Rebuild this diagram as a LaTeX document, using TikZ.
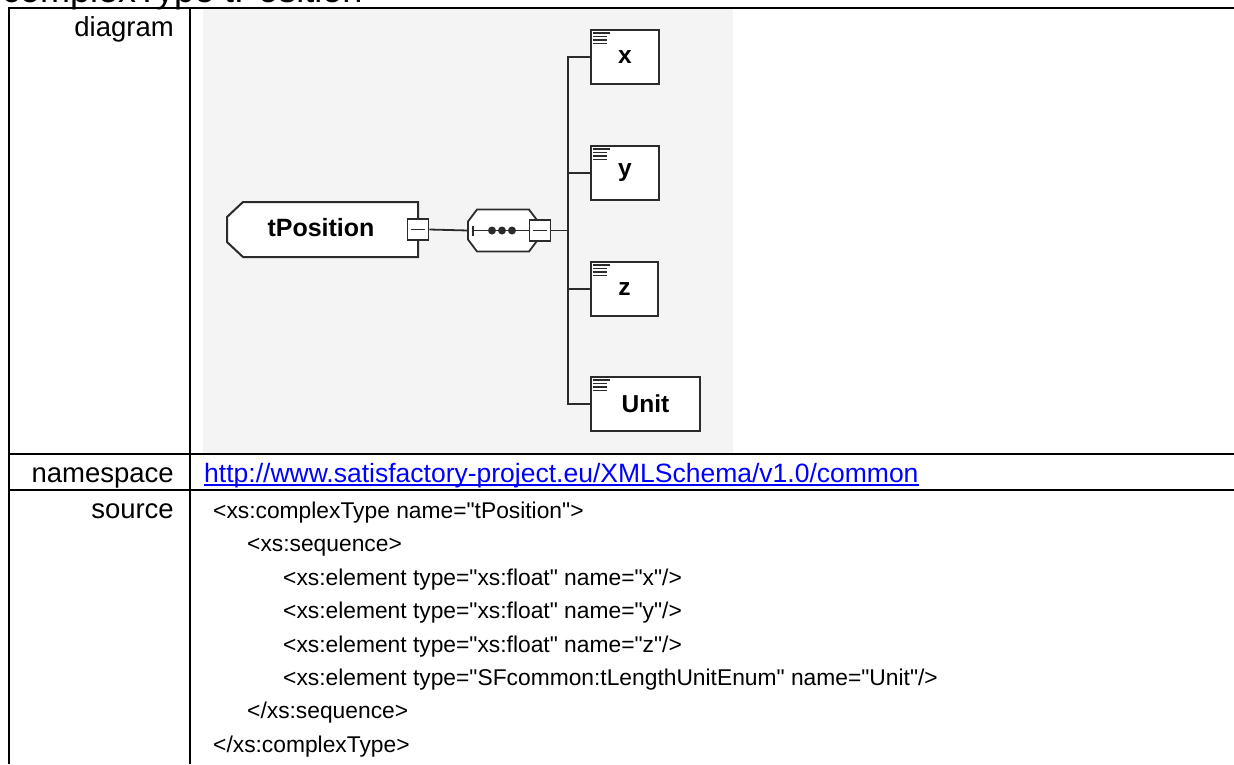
\documentclass[tikz,border=0pt]{standalone}
\usepackage{fontspec}
\setmainfont{Liberation Sans}[Ligatures=TeXOff]
\usetikzlibrary{%
  calc%
}
\tikzset{>=latex}
\definecolor{diagbg}{HTML}{F4F4F4}
\definecolor{boxline}{HTML}{2B2B2B}
\definecolor{linkblue}{HTML}{0000FF}
\newcommand\lblfont{\fontsize{27.5}{32}\selectfont}
\newcommand\srcfont{\fontsize{22.8}{28}\selectfont}
\newcommand\boxfont{\fontsize{24.5}{28}\selectfont\bfseries}
\tikzset{
  cellline/.style={line width=2pt},
  celllabel/.style={anchor=base east,inner sep=0pt,font=\lblfont},
  srcline/.style={anchor=base west,inner sep=0pt,font=\srcfont},
  elembox/.style={draw=boxline,fill=white,line width=2pt,inner sep=0pt,
    minimum height=54pt,font=\boxfont},
  minusbox/.style={draw=boxline,fill=white,line width=1.8pt,inner sep=0pt,
    minimum size=21pt},
  wire/.style={draw=boxline,line width=1.8pt}
}

\begin{document}
\begin{tikzpicture}[x=1pt,y=-1pt]
    \useasboundingbox (0,0) rectangle (1234,764);
    \node[anchor=base west,inner sep=0pt,font=\fontsize{36}{40}\selectfont]
    (title) at (2,2) {complexType tPosition};
    % table
    \fill[white] (0,7) rectangle (1234,9);
    \fill[diagbg] (203,9) rectangle (733,453);
    \draw[cellline] (9,764) -- (9,8) -- (1234,8);
    \draw[cellline] (190,8) -- (190,764);
    \draw[cellline] (9,454) -- (1234,454);
    \draw[cellline] (9,490) -- (1234,490);
    \node[celllabel] (lbldiagram) at (174,36) {diagram};
    \node[celllabel] (lblns) at (174,482) {namespace};
    \node[celllabel] (lblsrc) at (174,518) {source};
    % complex type
    \filldraw[fill=white,draw=boxline,line width=2pt] (243,202) -- (418,202)
    -- (418,257) -- (243,257) -- (227,242) -- (227,217) -- cycle;
    \node[font=\fontsize{25}{28}\selectfont\bfseries] (ctype) at (321,228)
    {tPosition};
    \node[minusbox] (ctminus) at (418,229.5) {};
    \draw[wire] ([xshift=4pt]ctminus.west) -- ([xshift=-4pt]ctminus.east);
    % sequence
    \coordinate (seq) at (468,230.5);
    \filldraw[fill=white,draw=boxline,line width=1.8pt] (seq) ++(0,-9)
    -- ++(9,-12) -- ++(52,0) -- ++(9,12) -- ++(0,18) -- ++(-9,12)
    -- ++(-52,0) -- ++(-9,-12) -- cycle;
    \draw[wire] ([xshift=5pt]seq) ++(0,-5) -- ++(0,10);
    \draw[wire] ([xshift=5pt]seq) -- ++(57,0);
    \foreach \dx in {24,34,44}
      \fill[boxline] ([xshift=\dx pt]seq) circle (4pt);
    \node[minusbox] (seqminus) at (540,230.5) {};
    \draw[wire] ([xshift=4pt]seqminus.west) -- ([xshift=-4pt]seqminus.east);
    \draw[wire] (ctminus.east) -- (seq);
    % elements
    \node[elembox,minimum width=68pt,anchor=north west] (ex) at (590,29) {x};
    \node[elembox,minimum width=68pt,anchor=north west] (ey) at (590,145) {y};
    \node[elembox,minimum width=67pt,anchor=north west] (ez) at (590,261) {z};
    \node[elembox,minimum width=109pt,anchor=north west] (eunit) at (590,376)
    {Unit};
    \foreach \e in {ex,ey,ez,eunit}{
      \draw[boxline,line width=1.4pt] ([xshift=3pt,yshift=-4pt]\e.north west)
      -- ++(17,0);
      \foreach \k in {1,2,3}
        \draw[boxline,line width=1.4pt]
        ([xshift=3pt,yshift=-4pt-3.4pt*\k]\e.north west) -- ++(14,0);
    }
    \coordinate (trunk) at (568,230.5);
    \draw[wire] (ex.west) -- (ex.west -| trunk) -- (eunit.west -| trunk)
    -- (eunit.west);
    \draw[wire] (ey.west) -- (ey.west -| trunk);
    \draw[wire] (ez.west) -- (ez.west -| trunk);
    \draw[wire] (seqminus.east) -- (trunk);
    % namespace and source
    \node[srcline,font=\fontsize{26.5}{30}\selectfont,text=linkblue] (nsurl)
    at (204,482) {http://www.satisfactory-project.eu/XMLSchema/v1.0/common};
    \draw[linkblue,line width=1.3pt] ([yshift=-3pt]nsurl.base west)
    -- ([yshift=-3pt]nsurl.base east);
    \node[srcline] (src1) at (213,518) {<xs:complexType name="tPosition">};
    \node[srcline] (src2) at (247,551) {<xs:sequence>};
    \node[srcline] (src3) at (283,585) {<xs:element type="xs:float" name="x"/>};
    \node[srcline] (src4) at (283,618) {<xs:element type="xs:float" name="y"/>};
    \node[srcline] (src5) at (283,652) {<xs:element type="xs:float" name="z"/>};
    \node[srcline] (src6) at (283,685)
    {<xs:element type="SFcommon:tLengthUnitEnum" name="Unit"/>};
    \node[srcline] (src7) at (247,718) {</xs:sequence>};
    \node[srcline] (src8) at (213,752) {</xs:complexType>};
  \end{tikzpicture}
\end{document}
